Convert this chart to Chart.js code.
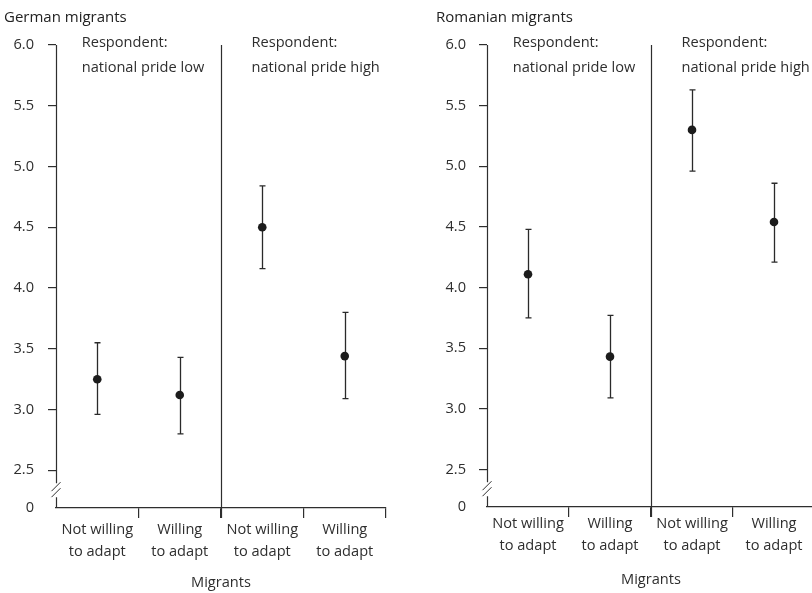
<!DOCTYPE html>
<html><head><meta charset="utf-8">
<script src="https://cdn.jsdelivr.net/npm/chart.js@4"></script>
<style>
html,body{margin:0;padding:0;background:#fff;overflow:hidden;width:812px;height:593px;}
#wrapL{position:absolute;left:0;top:0;width:406px;height:593px;}
#wrapR{position:absolute;left:406px;top:0;width:420px;height:593px;}
</style></head><body>
<div id="wrapL"><canvas id="cL" width="406" height="593"></canvas></div>
<div id="wrapR"><canvas id="cR" width="420" height="593"></canvas></div>
<script>
// ---- data ----
const categories = [['Not willing','to adapt'],['Willing','to adapt'],['Not willing','to adapt'],['Willing','to adapt']];
const groupLabels = [['Respondent:','national pride low'],['Respondent:','national pride high']];
const panelTitles = ['German migrants','Romanian migrants'];
const xAxisTitle = 'Migrants';
const germanMeans = [3.25, 3.12, 4.50, 3.44];
const germanLower = [2.96, 2.80, 4.16, 3.09];
const germanUpper = [3.55, 3.43, 4.84, 3.80];
const romanianMeans = [4.11, 3.43, 5.30, 4.54];
const romanianLower = [3.75, 3.09, 4.96, 4.21];
const romanianUpper = [4.48, 3.77, 5.63, 4.86];
const yTickValues = [2.19, 2.5, 3.0, 3.5, 4.0, 4.5, 5.0, 5.5, 6.0];
const yTickLabels = ['0','2.5','3.0','3.5','4.0','4.5','5.0','5.5','6.0'];

const FONT = "'Open Sans', sans-serif";
const FS = 14.6;
const INK = '#2e2e2e';
Chart.defaults.font.family = FONT;
Chart.defaults.color = INK;

function makePanel(id, cfg) {
  const decor = {
    id: 'decor' + id,
    beforeDatasetsDraw(chart) {
      const {ctx, chartArea: ca, scales: {x, y}} = chart;
      ctx.save();
      ctx.strokeStyle = INK;
      ctx.lineWidth = 1.2;
      const ax = Math.round(ca.left) + 0.5;
      const c = (y.getPixelForValue(yTickValues[1]) + ca.bottom) / 2 + 1;
      ctx.beginPath();
      ctx.moveTo(ax, ca.top); ctx.lineTo(ax, c - 7);
      ctx.moveTo(ax, c + 7); ctx.lineTo(ax, ca.bottom);
      ctx.stroke();
      ctx.lineWidth = 1;
      ctx.beginPath();
      ctx.moveTo(ax - 5, c + 1); ctx.lineTo(ax + 4, c - 8);
      ctx.moveTo(ax - 5, c + 7); ctx.lineTo(ax + 4, c - 2);
      ctx.stroke();
      const dx = Math.round((x.getPixelForValue(1) + x.getPixelForValue(2)) / 2) + 0.5;
      ctx.lineWidth = 1.2;
      ctx.beginPath();
      ctx.moveTo(dx, ca.top); ctx.lineTo(dx, ca.bottom + 10);
      ctx.stroke();
      ctx.lineWidth = 1.3;
      ctx.strokeStyle = '#2a2a2a';
      for (let i = 0; i < cfg.means.length; i++) {
        const px = Math.round(x.getPixelForValue(i)) + 0.5;
        const lo = y.getPixelForValue(cfg.lower[i]);
        const hi = y.getPixelForValue(cfg.upper[i]);
        ctx.beginPath();
        ctx.moveTo(px, lo); ctx.lineTo(px, hi);
        ctx.moveTo(px - 3, lo); ctx.lineTo(px + 3, lo);
        ctx.moveTo(px - 3, hi); ctx.lineTo(px + 3, hi);
        ctx.stroke();
      }
      ctx.restore();
    },
    afterDraw(chart) {
      const {ctx, chartArea: ca, scales: {x}} = chart;
      ctx.save();
      ctx.fillStyle = '#222';
      ctx.textBaseline = 'alphabetic';
      ctx.textAlign = 'left';
      ctx.font = "15px " + FONT;
      ctx.fillText(cfg.title, cfg.titleX, 21.7);
      ctx.font = FS + "px " + FONT;
      ctx.fillStyle = INK;
      const starts = [ca.left + 25.7, (x.getPixelForValue(1) + x.getPixelForValue(2)) / 2 + 30.5];
      groupLabels.forEach((lines, g) => {
        lines.forEach((t, k) => ctx.fillText(t, starts[g], 47 + k * 25));
      });
      ctx.restore();
    }
  };
  return new Chart(document.getElementById(id), {
    type: 'line',
    data: {
      labels: categories,
      datasets: [{
        data: cfg.means,
        showLine: false,
        pointRadius: 4.3,
        pointBackgroundColor: '#1c1c1c',
        pointBorderWidth: 0,
        borderColor: '#1c1c1c'
      }]
    },
    options: {
      responsive: false,
      animation: false,
      layout: {padding: {top: 45, right: cfg.rightPad, bottom: 0, left: 0}},
      plugins: {legend: {display: false}, tooltip: {enabled: false}},
      scales: {
        x: {
          type: 'category',
          offset: true,
          afterFit: s => { s.height = cfg.xH; },
          border: {display: true, color: INK, width: 1.2},
          grid: {
            offset: true, drawOnChartArea: false, drawTicks: true, tickLength: 10,
            color: ctx => ctx.index === 0 ? 'rgba(0,0,0,0)' : INK, lineWidth: 1.2
          },
          ticks: {autoSkip: false, maxRotation: 0, padding: cfg.xPad, color: INK,
                  font: {size: FS, lineHeight: 1.5}},
          title: {display: true, text: xAxisTitle, color: INK,
                  font: {size: FS, lineHeight: 1.2}, padding: {top: 0, bottom: cfg.titlePad}}
        },
        y: {
          type: 'linear',
          min: yTickValues[0], max: yTickValues[yTickValues.length - 1],
          afterFit: s => { s.width = cfg.yW; },
          afterBuildTicks: s => { s.ticks = yTickValues.map(v => ({value: v})); },
          border: {display: false},
          grid: {
            drawOnChartArea: false, drawTicks: true, tickLength: 8,
            color: ctx => ctx.index === 0 ? 'rgba(0,0,0,0)' : INK, lineWidth: 1.2
          },
          ticks: {padding: cfg.yPad, color: INK, font: {size: FS},
                  callback: (v, i) => yTickLabels[i]}
        }
      }
    },
    plugins: [decor]
  });
}

makePanel('cL', {title: panelTitles[0], titleX: 4, means: germanMeans, lower: germanLower, upper: germanUpper,
  yW: 56, rightPad: 20, xH: 85, xPad: 0.5, titlePad: 1, yPad: 14});
makePanel('cR', {title: panelTitles[1], titleX: 30, means: romanianMeans, lower: romanianLower, upper: romanianUpper,
  yW: 81, rightPad: 11, xH: 86, xPad: -4, titlePad: 4, yPad: 13});
</script>
</body></html>
